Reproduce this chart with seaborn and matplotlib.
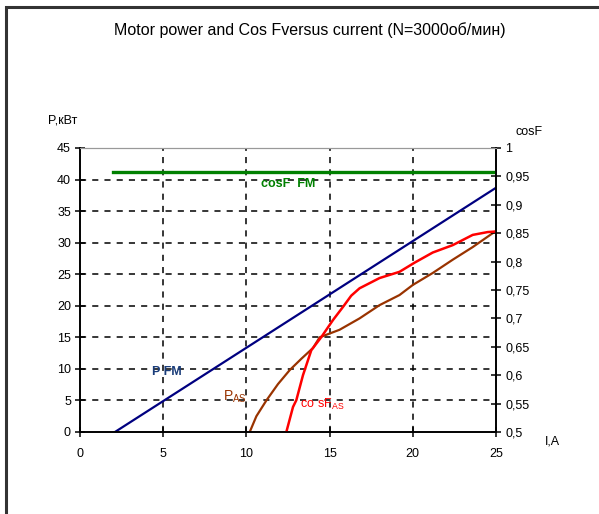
import numpy as np
import pandas as pd
import seaborn as sns
import matplotlib.pyplot as plt
from matplotlib.patches import Rectangle

# data
# P FM (kW) - straight line
i_pfm = [2.1, 10.0, 25.0]
p_fm = [0.0, 13.35, 38.7]

# P AS (kW)
i_pas = [10.2, 10.6, 11.2, 11.9, 12.6, 13.3, 14.0, 14.4, 15.6, 16.8, 18.0, 19.2, 20.0,
         21.2, 22.4, 23.6, 24.8, 25.0]
p_as = [0.0, 2.5, 5.0, 7.6, 9.8, 11.6, 13.3, 15.0, 16.2, 18.0, 20.1, 21.7, 23.3,
        25.2, 27.3, 29.3, 31.5, 31.8]

# cosF FM
i_cfm = [2.0, 25.0]
cos_fm = [0.958, 0.958]

# cosF AS
i_cas = [12.4, 12.6, 12.8, 13.0, 13.4, 13.9, 14.5, 15.2, 15.8, 16.3, 16.8, 18.0, 19.2, 20.1,
         21.2, 22.4, 23.6, 24.5, 25.0]
cos_as = [0.500, 0.522, 0.544, 0.556, 0.600, 0.644, 0.667, 0.697, 0.720, 0.740, 0.753, 0.771,
          0.782, 0.798, 0.816, 0.829, 0.847, 0.852, 0.853]

x_ticks = [0, 5, 10, 15, 20, 25]
p_ticks = [0, 5, 10, 15, 20, 25, 30, 35, 40, 45]
cos_ticks = [0.5, 0.55, 0.6, 0.65, 0.7, 0.75, 0.8, 0.85, 0.9, 0.95, 1.0]

plt.rcParams['font.family'] = ['Liberation Sans', 'DejaVu Sans']
fig = plt.figure(figsize=(5.99, 5.14), dpi=100)
fig.patches.append(Rectangle((6 / 599, -0.1), 1.2, 1 - 7 / 514 + 0.1, transform=fig.transFigure,
                             fill=False, edgecolor='#333333', linewidth=2.2))

ax = fig.add_axes([80 / 599, 1 - 432 / 514, 416 / 599, 284 / 514])
ax2 = ax.twinx()

sns.lineplot(x=i_pfm, y=p_fm, ax=ax, color='#000080', linewidth=1.6)
sns.lineplot(x=i_pas, y=p_as, ax=ax, color='#993300', linewidth=1.6)
sns.lineplot(x=i_cfm, y=cos_fm, ax=ax2, color='#008000', linewidth=2.4)
sns.lineplot(x=i_cas, y=cos_as, ax=ax2, color='#FF0000', linewidth=1.8)

ax.set_xlim(0, 25)
ax.set_ylim(0, 45)
ax2.set_ylim(0.5, 1.0)
ax.set_xticks(x_ticks)
ax.set_yticks(p_ticks)
ax2.set_yticks(cos_ticks)
ax.set_xticklabels([str(v) for v in x_ticks], fontsize=9)
ax.set_yticklabels([str(v) for v in p_ticks], fontsize=9)
ax2.set_yticklabels([('%g' % v).replace('.', ',') for v in cos_ticks], fontsize=9)

for g in x_ticks[1:-1]:
    ax.axvline(g, color='black', linestyle=(0, (4, 4)), linewidth=1.1, zorder=0)
for g in p_ticks[1:-1]:
    ax.axhline(g, color='black', linestyle=(0, (4, 4)), linewidth=1.1, zorder=0)

for a in (ax, ax2):
    a.tick_params(direction='inout', length=7, width=1.1, pad=3)
    a.spines['top'].set_color('#999999')
    a.spines['left'].set_linewidth(1.2)
    a.spines['right'].set_linewidth(1.2)
    a.spines['bottom'].set_linewidth(1.2)
ax.tick_params(axis='x', pad=8)

ax.text(12.5, 39.3, 'cosF  FM', color='#008000', fontsize=9, fontweight='bold', ha='center', va='center')
ax.text(4.3, 9.5, 'P FM', color='#1a3d7a', fontsize=9, fontweight='bold', ha='left', va='center')
ax.text(8.6, 5.5, r'$\mathregular{P_{AS}}$', color='#993300', fontsize=10, ha='left', va='center')
ax.text(13.2, 4.4, r'$\mathregular{co\ sF_{AS}}$', color='#FF0000', fontsize=9, ha='left', va='center')

fig.text(310 / 599, 1 - 30 / 514, 'Motor power and Cos Fversus current (N=3000об/мин)',
         fontsize=11.5, ha='center', va='center')
fig.text(48 / 599, 1 - 120 / 514, 'P,кВт', fontsize=9, ha='left', va='center')
fig.text(515 / 599, 1 - 132 / 514, 'cosF', fontsize=9, ha='left', va='center')
fig.text(545 / 599, 1 - 442 / 514, 'I,A', fontsize=9, ha='left', va='center')

fig.savefig('out.png', dpi=100)
